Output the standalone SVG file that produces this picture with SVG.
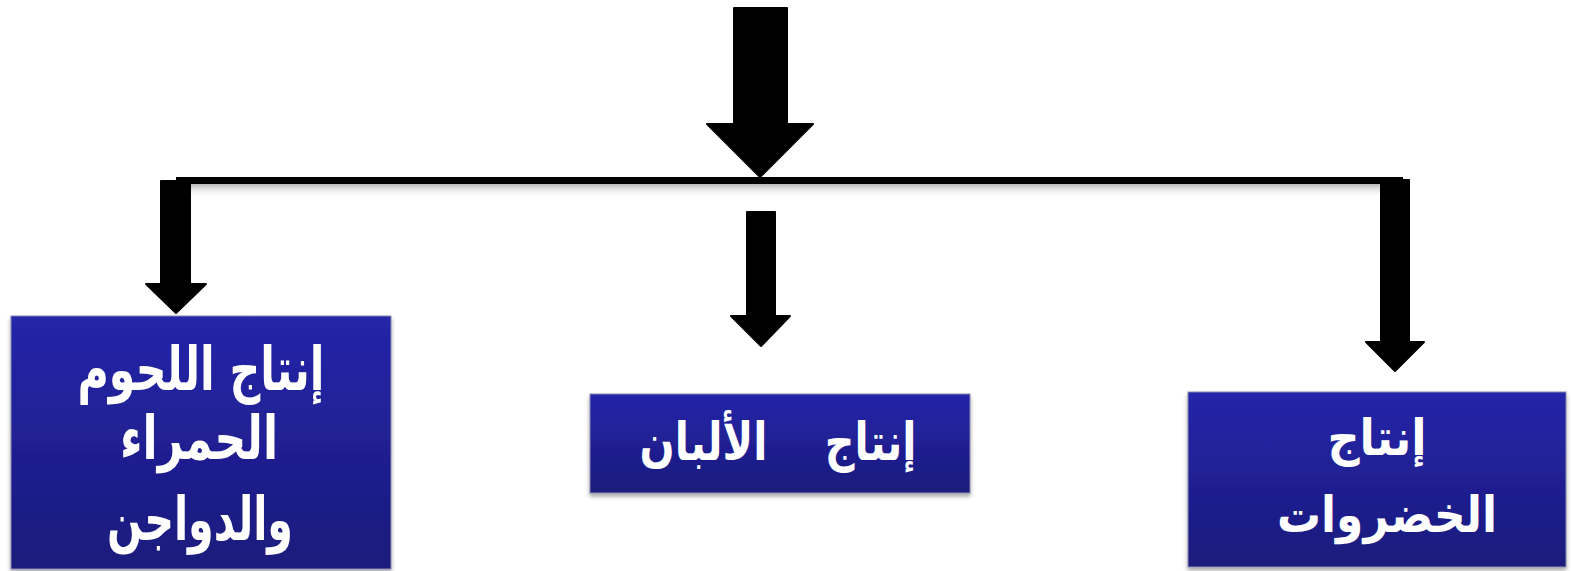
<svg xmlns="http://www.w3.org/2000/svg" width="1571" height="571" viewBox="0 0 1571 571">
<defs>
<linearGradient id="boxg" x1="0" y1="0" x2="0" y2="1">
<stop offset="0" stop-color="#2525aa"/>
<stop offset="1" stop-color="#1b1a7c"/>
</linearGradient>
<linearGradient id="shad" x1="0" y1="0" x2="0" y2="1">
<stop offset="0" stop-color="#999" stop-opacity="0.7"/>
<stop offset="1" stop-color="#fff" stop-opacity="0"/>
</linearGradient>
<filter id="ds" x="-5%" y="-5%" width="110%" height="115%">
<feDropShadow dx="0" dy="3" stdDeviation="2" flood-color="#000" flood-opacity="0.35"/>
</filter>
</defs>
<style>
.box{fill:url(#boxg);stroke:#8a8ab0;stroke-width:1;filter:url(#ds)}
.lbl{font-family:"DejaVu Sans",sans-serif;font-weight:bold;fill:#fff;text-anchor:middle}
.big{font-size:60px}
.mid{font-size:52px}
.sml{font-size:50px}
.arr{fill:#000;stroke:#000;stroke-width:2;stroke-linejoin:round}
</style>
<g id="connectors">
<rect x="176" y="184" width="1224" height="14" fill="url(#shad)"/>
<rect x="176" y="177" width="1227" height="7" fill="#000"/>
<path class="arr" d="M734,8 H787 V124 H813 L760,177 L707,124 H734 Z"/>
<path class="arr" d="M161,181 H190 V284 H206 L176,313 L146,284 H161 Z"/>
<path class="arr" d="M747,212 H775 V316 H790 L761,346 L731,316 H747 Z"/>
<path class="arr" d="M1381,180 H1409 V342 H1424 L1395,371 L1366,342 H1381 Z"/>
</g>
<g id="node-meat">
<rect class="box" x="11" y="316" width="380" height="253"/>
<text class="lbl big" x="201" y="390" direction="rtl" textLength="247" lengthAdjust="spacingAndGlyphs">إنتاج اللحوم</text>
<text class="lbl big" x="199" y="459" direction="rtl" textLength="158" lengthAdjust="spacingAndGlyphs">الحمراء</text>
<text class="lbl big" x="200" y="540" direction="rtl" textLength="186" lengthAdjust="spacingAndGlyphs">والدواجن</text>
</g>
<g id="node-dairy">
<rect class="box" x="590" y="394" width="380" height="99"/>
<text class="lbl mid" x="778" y="460" direction="rtl" xml:space="preserve" textLength="277" lengthAdjust="spacingAndGlyphs">إنتاج    الألبان</text>
</g>
<g id="node-veg">
<rect class="box" x="1188" y="392" width="378" height="175"/>
<text class="lbl sml" x="1377" y="455" direction="rtl" textLength="99" lengthAdjust="spacingAndGlyphs">إنتاج</text>
<text class="lbl sml" x="1387" y="532" direction="rtl" textLength="220" lengthAdjust="spacingAndGlyphs">الخضروات</text>
</g>
</svg>
